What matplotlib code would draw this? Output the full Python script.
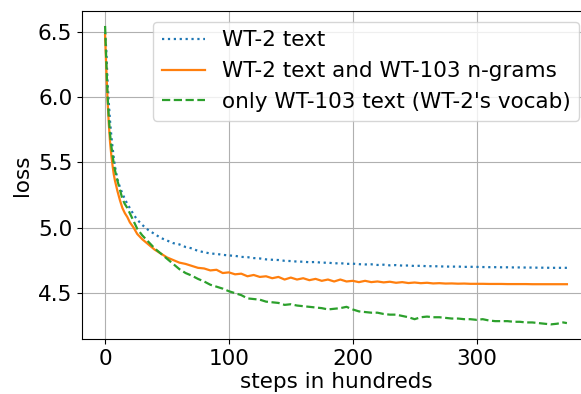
import matplotlib
matplotlib.use("Agg")
import matplotlib.pyplot as plt

# steps (in hundreds) shared by all three runs
steps = [0, 1, 2, 3, 4, 5, 6, 7, 8, 10, 12, 14, 16, 18, 20, 23, 26, 30, 35, 40,
         45, 50, 55, 60, 65, 70, 75, 80, 85, 90, 95, 100, 105, 110, 115, 120,
         125, 130, 135, 140, 145, 150, 155, 160, 165, 170, 175, 180, 185, 190,
         195, 200, 205, 210, 215, 220, 225, 230, 235, 240, 245, 250, 255, 260,
         265, 270, 275, 280, 285, 290, 295, 300, 305, 310, 315, 320, 325, 330,
         335, 340, 345, 350, 355, 360, 365, 370, 373]

wt2_text = [6.50, 6.36, 6.12, 5.96, 5.82, 5.71, 5.62, 5.54, 5.47, 5.37, 5.31,
            5.26, 5.22, 5.18, 5.15, 5.10, 5.06, 5.02, 4.98, 4.95, 4.92, 4.90,
            4.88, 4.87, 4.85, 4.84, 4.82, 4.81, 4.80, 4.797, 4.79, 4.785,
            4.782, 4.774, 4.772, 4.765, 4.762, 4.755, 4.752, 4.75, 4.744,
            4.742, 4.738, 4.737, 4.733, 4.735, 4.729, 4.73, 4.724, 4.726,
            4.72, 4.722, 4.718, 4.716, 4.717, 4.712, 4.714, 4.709, 4.711,
            4.707, 4.708, 4.704, 4.706, 4.702, 4.703, 4.701, 4.700, 4.699,
            4.700, 4.697, 4.698, 4.697, 4.696, 4.695, 4.695, 4.694, 4.694,
            4.693, 4.693, 4.692, 4.692, 4.691, 4.691, 4.690, 4.690, 4.690,
            4.690]

wt2_ngrams = [6.48, 6.22, 5.98, 5.80, 5.66, 5.56, 5.48, 5.41, 5.36, 5.28, 5.21,
              5.15, 5.11, 5.08, 5.04, 5.00, 4.95, 4.91, 4.87, 4.83, 4.80, 4.77,
              4.75, 4.73, 4.72, 4.705, 4.69, 4.685, 4.67, 4.675, 4.65, 4.655,
              4.64, 4.645, 4.625, 4.635, 4.62, 4.625, 4.61, 4.62, 4.60, 4.615,
              4.60, 4.61, 4.595, 4.605, 4.59, 4.60, 4.585, 4.60, 4.585, 4.59,
              4.58, 4.59, 4.58, 4.585, 4.578, 4.583, 4.575, 4.58, 4.573, 4.577,
              4.572, 4.575, 4.57, 4.572, 4.569, 4.57, 4.568, 4.569, 4.567,
              4.567, 4.567, 4.566, 4.566, 4.566, 4.565, 4.565, 4.565, 4.565,
              4.564, 4.564, 4.564, 4.564, 4.564, 4.564, 4.564]

wt103_text = [6.55, 6.28, 6.02, 5.85, 5.72, 5.63, 5.56, 5.49, 5.44, 5.36, 5.29,
              5.22, 5.18, 5.15, 5.11, 5.05, 4.99, 4.94, 4.89, 4.84, 4.80, 4.76,
              4.72, 4.68, 4.65, 4.63, 4.605, 4.585, 4.56, 4.545, 4.53, 4.51,
              4.495, 4.48, 4.455, 4.45, 4.445, 4.43, 4.425, 4.42, 4.405, 4.41,
              4.40, 4.395, 4.39, 4.385, 4.38, 4.37, 4.375, 4.38, 4.39, 4.37,
              4.355, 4.35, 4.345, 4.345, 4.335, 4.33, 4.33, 4.32, 4.31, 4.295,
              4.31, 4.315, 4.31, 4.31, 4.305, 4.30, 4.30, 4.295, 4.295, 4.29,
              4.295, 4.285, 4.28, 4.28, 4.28, 4.275, 4.275, 4.27, 4.27, 4.265,
              4.26, 4.255, 4.26, 4.27, 4.265]

labels = ["WT-2 text", "WT-2 text and WT-103 n-grams",
          "only WT-103 text (WT-2's vocab)"]

fig = plt.figure(figsize=(5.81, 3.94), dpi=100)
# axes runs past the right edge of the canvas, like the cropped original
ax = fig.add_axes([0.1411, 0.1388, 0.8744, 0.8332])

ax.plot(steps, wt2_text, ":", color="tab:blue", lw=1.6, label=labels[0])
ax.plot(steps, wt2_ngrams, "-", color="tab:orange", lw=1.6, label=labels[1])
ax.plot(steps, wt103_text, "--", color="tab:green", lw=1.6, label=labels[2])

ax.set_xticks([0, 100, 200, 300])
ax.set_yticks([4.5, 5.0, 5.5, 6.0, 6.5])
ax.tick_params(labelsize=15.5)
ax.set_xlabel("steps in hundreds", fontsize=15.5, labelpad=2)
ax.set_ylabel("loss", fontsize=15.5)
ax.grid(True)
ax.legend(loc="upper right", fontsize=15.5)

fig.savefig("out.png", dpi=100)
